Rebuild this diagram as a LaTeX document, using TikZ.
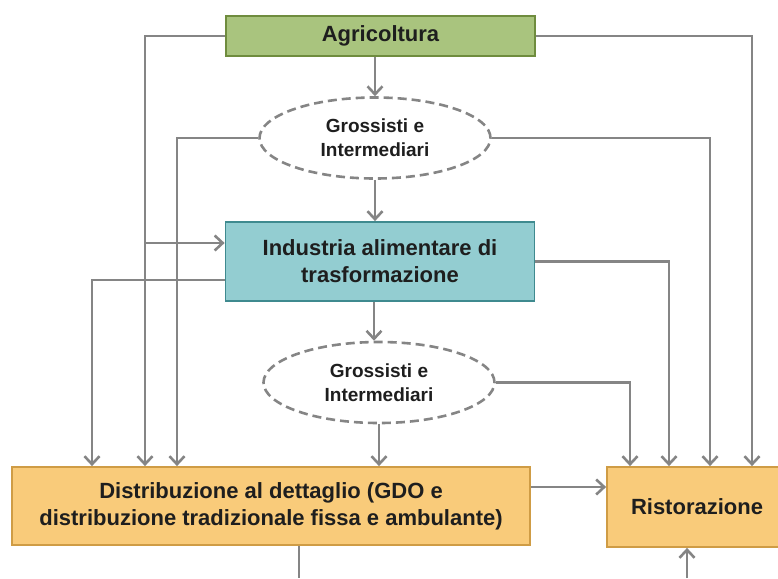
\documentclass[tikz,border=0pt]{standalone}
\usepackage{fontspec}
\setmainfont{Liberation Sans}
\usetikzlibrary{arrows.meta,shapes.geometric}
\definecolor{agrifill}{HTML}{A9C47E}
\definecolor{agridraw}{HTML}{6F8C3E}
\definecolor{indfill}{HTML}{93CDD1}
\definecolor{inddraw}{HTML}{3F8A8F}
\definecolor{retfill}{HTML}{F9CB7A}
\definecolor{retdraw}{HTML}{CF9C45}
\definecolor{flowgray}{HTML}{858585}
\definecolor{inkdark}{HTML}{1E1E1E}
\tikzset{
  box/.style={draw, line width=1.8pt, align=center, inner sep=0pt, text=inkdark,
    font=\bfseries\fontsize{22}{27}\selectfont},
  grossisti/.style={ellipse, draw=flowgray, dash pattern=on 9pt off 5pt, line width=2.6pt,
    align=center, inner sep=0pt, minimum width=231pt, minimum height=81pt, text=inkdark,
    font=\bfseries\fontsize{19}{24}\selectfont},
  flow/.style={draw=flowgray, line width=2.6pt, -{Straight Barb[length=8pt,width=15pt]}},
  link/.style={draw=flowgray, line width=2.6pt},
}
\begin{document}
\begin{tikzpicture}[x=1pt,y=-1pt]
\useasboundingbox (0,0) rectangle (778,578);
\clip (0,0) rectangle (778,578);
% nodes
\node[box, fill=agrifill, draw=agridraw, minimum width=309pt, minimum height=40pt] (agri) at (380.5,36) {Agricoltura};
\node[grossisti] (gi1) at (375,138) {Grossisti e\\Intermediari};
\node[box, fill=indfill, draw=inddraw, minimum width=309pt, minimum height=79pt] (ind) at (380,261.5) {Industria alimentare di\\trasformazione};
\node[grossisti] (gi2) at (379,382.5) {Grossisti e\\Intermediari};
\node[box, fill=retfill, draw=retdraw, minimum width=518pt, minimum height=78pt] (dist) at (271,506) {Distribuzione al dettaglio (GDO e\\distribuzione tradizionale fissa e ambulante)};
\node[box, fill=retfill, draw=retdraw, minimum width=180pt, minimum height=80pt] (rist) at (697,507) {Ristorazione};
% lanes
\coordinate (lnA) at (145,0);
\coordinate (lnB) at (177,0);
\coordinate (lnC) at (92,0);
\coordinate (lnD) at (752,0);
\coordinate (lnE) at (710,0);
\coordinate (lnF) at (669,0);
\coordinate (lnG) at (630,0);
\coordinate (lnM) at (374,0);
\coordinate (indin) at ([yshift=18.5pt]ind.west);
\coordinate (indout) at ([yshift=-18.5pt]ind.west);
\coordinate (distout) at ([yshift=19pt]dist.east);
\coordinate (down) at (299,578);
\coordinate (up) at (687,578);
% connectors
\draw[flow] (agri.west) -| (lnA |- dist.north);
\draw[flow] (lnA |- indin) -- (indin);
\draw[flow] (agri.east) -| (lnD |- rist.north);
\draw[flow] (gi1.north |- agri.south) -- (gi1.north);
\draw[flow] (gi1.west) -| (lnB |- dist.north);
\draw[flow] (gi1.east) -| (lnE |- rist.north);
\draw[flow] (gi1.south) -- (gi1.south |- ind.north);
\draw[flow] (indout) -| (lnC |- dist.north);
\draw[flow] (ind.east) -| (lnF |- rist.north);
\draw[flow] (lnM |- ind.south) -- (lnM |- gi2.north);
\draw[flow] (gi2.south) -- (gi2.south |- dist.north);
\draw[flow] (gi2.east) -| (lnG |- rist.north);
\draw[flow] (distout) -- (distout -| rist.west);
\draw[link] (down |- dist.south) -- (down);
\draw[flow] (up) -- (up |- rist.south);
\end{tikzpicture}
\end{document}
